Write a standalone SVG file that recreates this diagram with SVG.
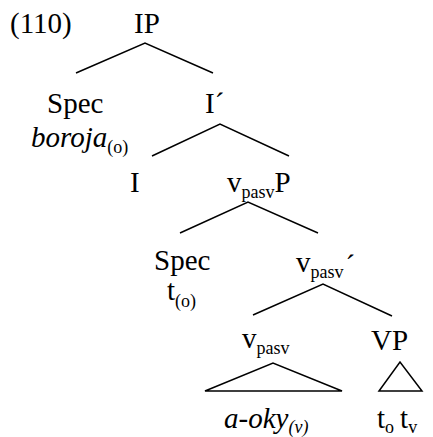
<svg xmlns="http://www.w3.org/2000/svg" width="433" height="437" viewBox="0 0 433 437">
<style>
text{font-family:'Liberation Serif','Times New Roman',serif;font-size:29px;fill:#000}
.s{font-size:18px}
.i{font-style:italic}
.e{stroke:#000;stroke-width:1.5;fill:none}
</style>
<rect width="433" height="437" fill="#fff"/>
<text x="10" y="33">(110)</text>
<g id="IP"><text x="134" y="33">IP</text></g>
<g id="Spec1"><text x="47" y="113">Spec</text><text class="i" x="31" y="147">boroja<tspan class="s" dy="6" font-style="normal">(o)</tspan></text></g>
<g id="Ibar"><text x="205" y="113">I´</text></g>
<g id="I"><text x="130" y="192">I</text></g>
<g id="vpasvP"><text x="227" y="192">v<tspan class="s" dy="6">pasv</tspan><tspan dy="-6">P</tspan></text></g>
<g id="Spec2"><text x="154" y="270">Spec</text><text x="167" y="300">t<tspan class="s" dy="7">(o)</tspan></text></g>
<g id="vpasvbar"><text x="296" y="272">v<tspan class="s" dy="6">pasv</tspan><tspan dx="2" dy="-3">´</tspan></text></g>
<g id="vpasv"><text x="242" y="348">v<tspan class="s" dy="6">pasv</tspan></text><text class="i" x="224" y="428">a-oky<tspan class="s" dy="5">(v)</tspan></text></g>
<g id="VP"><text x="371" y="350">VP</text><text x="377" y="428">t<tspan class="s" dy="5">o</tspan><tspan dx="6" dy="-5">t</tspan><tspan class="s" dy="5">v</tspan></text></g>
<g id="connectors" class="e">
<polyline points="76,73 145,43 213,73"/>
<polyline points="152,156 220,124 289,156"/>
<polyline points="180,233 248,202 318,233"/>
<polyline points="253,315 323,284 392,316"/>
<polygon points="205,391 273,363 342,391"/>
<polygon points="379,391 400,362 422,391"/>
</g>
</svg>
